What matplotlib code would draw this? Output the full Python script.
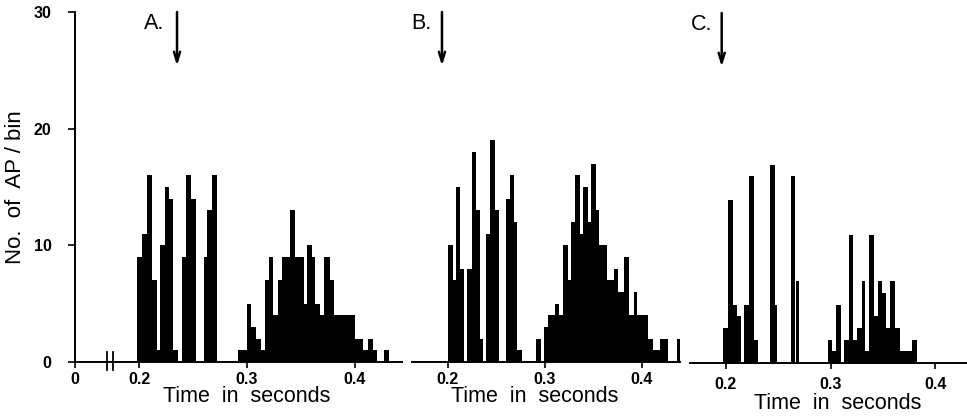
"""Peri-stimulus histograms A-C: action potentials per bin vs. time."""
import matplotlib
matplotlib.use("Agg")
import matplotlib.pyplot as plt

plt.rcParams["font.family"] = ["Liberation Sans", "DejaVu Sans"]

# bin edges (s) and counts
a_edges = [0.1986, 0.2032, 0.2074, 0.2123, 0.2169, 0.2194, 0.2241, 0.2280, 0.2318, 0.2364,
           0.2394, 0.2435, 0.2481, 0.2528, 0.2600, 0.2634, 0.2673, 0.2725, 0.2921, 0.2997,
           0.3034, 0.3081, 0.3127, 0.3167, 0.3208, 0.3238, 0.3290, 0.3321, 0.3394, 0.3444,
           0.3528, 0.3560, 0.3599, 0.3630, 0.3676, 0.3713, 0.3769, 0.3806, 0.3917, 0.4000,
           0.4074, 0.4120, 0.4167, 0.4204, 0.4269, 0.4315]
a_counts = [9, 11, 16, 7, 1, 10, 15, 14, 1, 0,
            9, 16, 14, 0, 9, 13, 16, 0, 1, 5,
            3, 2, 1, 7, 9, 4, 7, 9, 13, 9,
            5, 10, 9, 5, 4, 9, 7, 4, 4, 2,
            1, 2, 1, 0, 1]

b_edges = [0.1997, 0.2048, 0.2079, 0.2124, 0.2165, 0.2193, 0.2244, 0.2289, 0.2330, 0.2358,
           0.2392, 0.2433, 0.2485, 0.2529, 0.2598, 0.2639, 0.2684, 0.2714, 0.2760, 0.2912,
           0.2959, 0.2990, 0.3034, 0.3103, 0.3147, 0.3189, 0.3240, 0.3265, 0.3309, 0.3361,
           0.3389, 0.3446, 0.3471, 0.3526, 0.3560, 0.3642, 0.3711, 0.3756, 0.3814, 0.3869,
           0.3918, 0.3952, 0.4065, 0.4113, 0.4186, 0.4268, 0.4358, 0.4392]
b_counts = [10, 7, 15, 8, 0, 8, 18, 13, 2, 0,
            11, 19, 13, 0, 14, 16, 12, 1, 0, 2,
            0, 3, 4, 5, 4, 10, 7, 12, 16, 11,
            15, 12, 17, 13, 10, 7, 8, 6, 9, 4,
            6, 4, 2, 1, 2, 0, 2]

c_edges = [0.1974, 0.2022, 0.2064, 0.2105, 0.2141, 0.2175, 0.2223, 0.2271, 0.2309, 0.2421,
           0.2468, 0.2492, 0.2624, 0.2655, 0.2669, 0.2701, 0.2978, 0.3016, 0.3054, 0.3097,
           0.3131, 0.3179, 0.3217, 0.3255, 0.3297, 0.3329, 0.3367, 0.3415, 0.3456, 0.3489,
           0.3530, 0.3568, 0.3616, 0.3663, 0.3775, 0.3823]
c_counts = [3, 14, 5, 4, 0, 5, 16, 2, 0, 17,
            5, 0, 16, 0, 7, 0, 2, 1, 5, 0,
            2, 11, 2, 3, 7, 1, 11, 4, 7, 6,
            3, 7, 3, 1, 2]

panel_labels = ["A.", "B.", "C."]
stim_times = [0.2352, 0.1938, 0.1959]   # arrow positions (s)
xticks = [0.2, 0.3, 0.4]
yticks = [0, 10, 20, 30]

fig = plt.figure(figsize=(9.67, 4.17), dpi=100)
W, H = 967, 417

def add_axes(px_left, px_right, px_base):
    return fig.add_axes([px_left / W, 1 - px_base / H, (px_right - px_left) / W, 350 / H])

ax_a = add_axes(75, 402, 362)
ax_b = add_axes(412, 680, 362)
ax_c = add_axes(690, 967, 363)

ax_a.set_xlim(0.14074, 0.44352)
ax_b.set_xlim(0.1629, 0.4392)
ax_c.set_xlim(0.1656, 0.4304)

panels = [(ax_a, a_edges, a_counts), (ax_b, b_edges, b_counts), (ax_c, c_edges, c_counts)]
label_x = [0.526, 0.459, 0.534]
label_y = [-0.068, -0.068, -0.086]
tick_pad = [3, 3, 6]
letter_off = [-13, -10, -9]

for i, (ax, edges, counts) in enumerate(panels):
    ax.stairs(counts, edges, fill=True, color="black", baseline=0, lw=0)
    ax.set_ylim(0, 30)
    for s in ["top", "right"]:
        ax.spines[s].set_visible(False)
    ax.spines["bottom"].set_linewidth(1.4)
    ax.tick_params(axis="x", direction="out", length=4, width=1.2, pad=tick_pad[i],
                   labelsize=11.5)
    if i == 0:
        ax.set_xticks([ax.get_xlim()[0]] + xticks)
        ax.set_xticklabels(["0"] + [f"{t:.1f}" for t in xticks], fontweight="bold")
    else:
        ax.set_xticks(xticks)
        ax.set_xticklabels([f"{t:.1f}" for t in xticks], fontweight="bold")
    ax.set_xlabel("Time  in  seconds", fontsize=15.5)
    ax.xaxis.set_label_coords(label_x[i], label_y[i])

    t = stim_times[i]
    ax.annotate("", xy=(t, 25.4), xytext=(t, 30.0), annotation_clip=False,
                arrowprops=dict(arrowstyle="->,head_length=0.7,head_width=0.22",
                                lw=1.8, color="black", shrinkA=0, shrinkB=0))
    ax.annotate(panel_labels[i], xy=(t, 29.0), xytext=(letter_off[i], 0),
                textcoords="offset pixels", ha="right", va="center", fontsize=15.5,
                annotation_clip=False)

ax_a.spines["left"].set_linewidth(1.4)
ax_a.set_yticks(yticks)
ax_a.set_yticklabels([str(v) for v in yticks], fontweight="bold")
ax_a.tick_params(axis="y", direction="out", length=5, width=1.2, pad=12, labelsize=11.5)
ax_a.set_ylabel("No.  of  AP / bin", fontsize=16)
ax_a.yaxis.set_label_coords(-0.15, 0.5)
for ax in (ax_b, ax_c):
    ax.spines["left"].set_visible(False)
    ax.set_yticks([])

# axis break marks between 0 and 0.2
for xb in (0.1706, 0.1756):
    ax_a.plot([xb, xb], [-0.7, 0.9], color="black", lw=1.3, clip_on=False)

fig.savefig("out.png", dpi=100)
